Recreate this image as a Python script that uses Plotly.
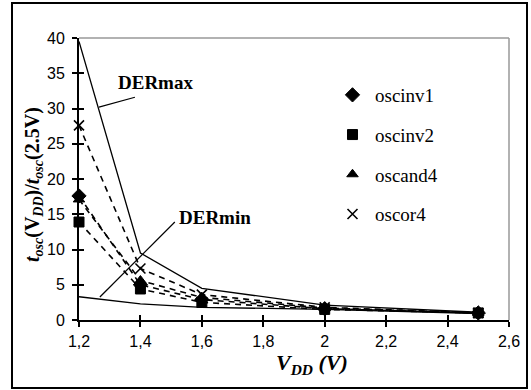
import plotly.graph_objects as go

# ---- data ----
vdd = [1.2, 1.4, 1.6, 2.0, 2.5]
oscinv1 = [17.6, 5.0, 2.9, 1.6, 1.0]
oscinv2 = [13.9, 4.4, 2.5, 1.5, 1.0]
oscand4 = [17.1, 5.6, 3.2, 1.7, 1.0]
oscor4 = [27.6, 7.3, 3.6, 1.8, 1.0]
der_max = [39.5, 9.5, 4.5, 2.1, 1.1]
der_min = [3.3, 2.3, 1.8, 1.5, 0.9]

series_names = ["oscinv1", "oscinv2", "oscand4", "oscor4"]
series_vals = [oscinv1, oscinv2, oscand4, oscor4]
series_symbols = ["diamond", "square", "triangle-up", "x-thin"]

x_ticks = [1.2, 1.4, 1.6, 1.8, 2.0, 2.2, 2.4, 2.6]
x_tick_labels = ["1,2", "1,4", "1,6", "1,8", "2", "2,2", "2,4", "2,6"]
y_ticks = [0, 5, 10, 15, 20, 25, 30, 35, 40]
y_tick_labels = [str(v) for v in y_ticks]

SERIF = "Liberation Serif, Times New Roman, serif"
SANS = "Liberation Sans, Arial, sans-serif"

# plot-area pixel geometry
L, R, T, B = 79, 509, 38, 320
W, H = R - L, B - T


def px(xp):
    return (xp - L) / W


def py(yp):
    return (B - yp) / H


fig = go.Figure()

# envelope lines
for vals in (der_max, der_min):
    fig.add_trace(go.Scatter(x=vdd, y=vals, mode="lines",
                             line=dict(color="black", width=1.3),
                             showlegend=False, hoverinfo="skip"))

# dashed series lines
for vals in series_vals:
    fig.add_trace(go.Scatter(x=vdd, y=vals, mode="lines",
                             line=dict(color="black", width=1.6, dash="6px,5px"),
                             showlegend=False, hoverinfo="skip"))

# series markers (legend)
for name, vals, sym in zip(series_names, series_vals, series_symbols):
    if sym == "x-thin":
        marker = dict(symbol=sym, size=10, color="black",
                      line=dict(color="black", width=1.6))
    else:
        marker = dict(symbol=sym, size=10 if sym != "diamond" else 11,
                      color="black", line=dict(color="black", width=1))
    fig.add_trace(go.Scatter(x=vdd, y=vals, mode="markers", name=name,
                             marker=marker, cliponaxis=False,
                             legendgroup=name))

# dummy trace for the overlay axes (cross ticks)
fig.add_trace(go.Scatter(x=[None], y=[None], xaxis="x2", yaxis="y2",
                         showlegend=False, hoverinfo="skip"))

# pointer lines for labels
fig.add_shape(type="line", xref="x", yref="y", x0=1.265, y0=30.2, x1=1.382, y1=31.6,
              line=dict(color="black", width=1.2))
fig.add_shape(type="line", xref="x", yref="y", x0=1.268, y0=3.26, x1=1.512, y1=13.9,
              line=dict(color="black", width=1.2))

fig.add_annotation(x=px(155), y=py(82), xref="paper", yref="paper", text="<b>DERmax</b>",
                   xanchor="center", yanchor="middle",
                   showarrow=False, font=dict(family=SERIF, size=19, color="black"))
fig.add_annotation(x=px(215), y=py(217), xref="paper", yref="paper", text="<b>DERmin</b>",
                   xanchor="center", yanchor="middle",
                   showarrow=False, font=dict(family=SERIF, size=19, color="black"))

# plot frame: gray top/right, outer black frame
fig.add_shape(type="line", xref="paper", yref="paper", x0=0, y0=1, x1=1, y1=1,
              line=dict(color="#999999", width=1.5))
fig.add_shape(type="line", xref="paper", yref="paper", x0=1, y0=0, x1=1, y1=1,
              line=dict(color="#999999", width=1.5))
fig.add_shape(type="rect", xref="paper", yref="paper",
              x0=px(12), y0=py(388), x1=px(527), y1=py(3),
              line=dict(color="black", width=2))

# axis titles
fig.add_annotation(x=px(34), y=py(185), xref="paper", yref="paper", textangle=-90,
                   xanchor="center", yanchor="middle",
                   text="<b><i>t</i><sub><i>osc</i></sub>(V<sub><i>DD</i></sub>)/<i>t</i><sub><i>osc</i></sub>(2.5V)</b>",
                   showarrow=False, font=dict(family=SERIF, size=20, color="black"))
fig.add_annotation(x=px(312), y=py(364), xref="paper", yref="paper",
                   xanchor="center", yanchor="middle",
                   text="<b><i>V</i><sub><i>DD</i></sub><i> (V)</i></b>",
                   showarrow=False, font=dict(family=SERIF, size=22, color="black"))

axis_common = dict(showgrid=False, zeroline=False)
fig.update_layout(
    width=531, height=390,
    margin=dict(l=L, r=531 - R, t=T, b=390 - B, pad=0),
    paper_bgcolor="white", plot_bgcolor="white",
    showlegend=True,
    legend=dict(x=px(330), y=py(76), xanchor="left", yanchor="top",
                font=dict(family=SERIF, size=19, color="black"),
                bgcolor="rgba(0,0,0,0)", tracegroupgap=12, itemwidth=35),
    xaxis=dict(range=[1.2, 2.6], tickvals=x_ticks, ticktext=x_tick_labels,
               ticks="outside", ticklen=5, tickwidth=1.5, tickcolor="black",
               showline=True, linecolor="black", linewidth=2,
               tickfont=dict(family=SANS, size=16, color="black"),
               ticklabelstandoff=1, **axis_common),
    yaxis=dict(range=[0, 40], tickvals=y_ticks, ticktext=y_tick_labels,
               ticks="outside", ticklen=5, tickwidth=1.5, tickcolor="black",
               showline=True, linecolor="black", linewidth=2,
               tickfont=dict(family=SANS, size=16, color="black"),
               ticklabelstandoff=4, **axis_common),
    xaxis2=dict(range=[1.2, 2.6], overlaying="x", anchor="y", tickvals=x_ticks,
                ticks="inside", ticklen=5, tickwidth=1.5, tickcolor="black",
                showticklabels=False, showline=False, **axis_common),
    yaxis2=dict(range=[0, 40], overlaying="y", anchor="x", tickvals=y_ticks,
                ticks="inside", ticklen=5, tickwidth=1.5, tickcolor="black",
                showticklabels=False, showline=False, **axis_common),
)

fig.write_html("out.html")
